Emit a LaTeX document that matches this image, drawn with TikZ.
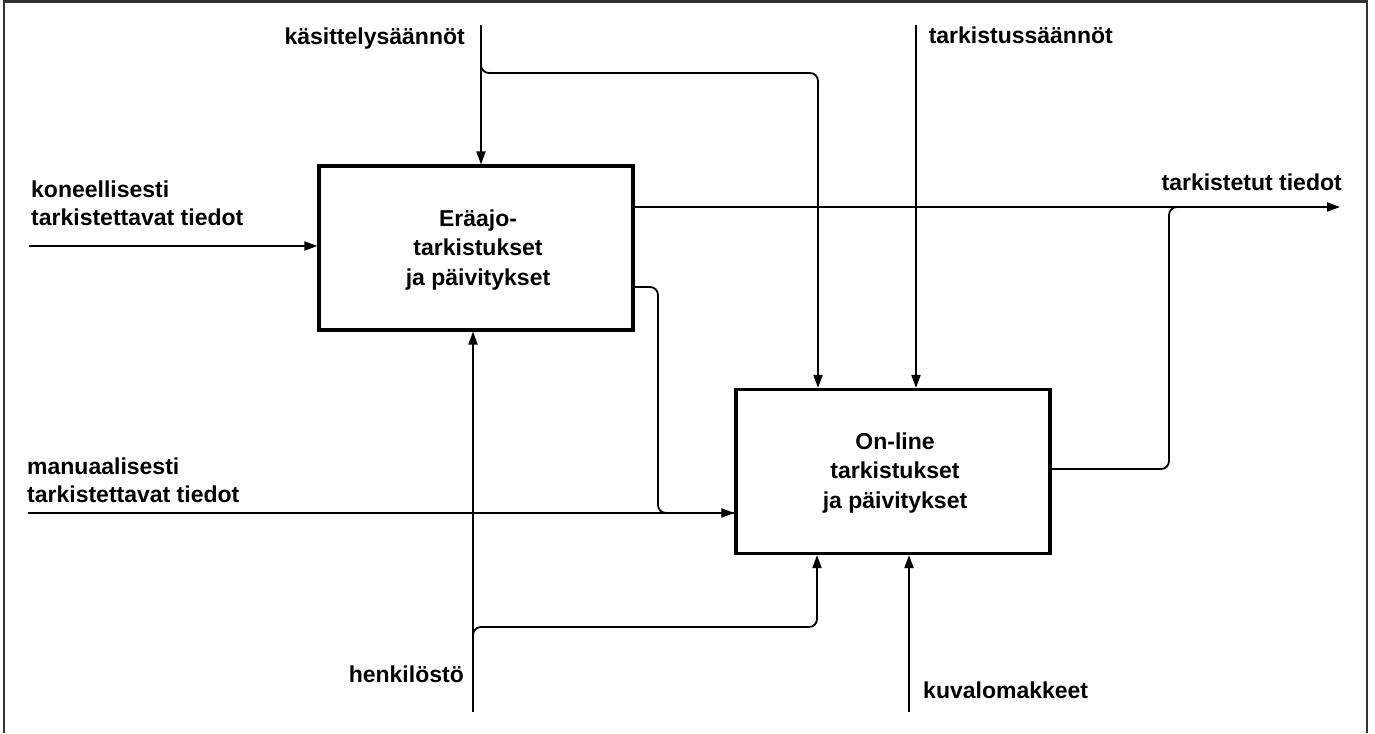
\documentclass[tikz,border=0pt]{standalone}
\usepackage{fontspec}
\setmainfont{Liberation Sans}
\usetikzlibrary{arrows.meta}
\begin{document}
\begin{tikzpicture}[x=1pt,y=-1pt,
  lbl/.style={font=\bfseries\fontsize{23}{28}\selectfont, inner sep=0pt},
  proc/.style={draw, line width=3.2pt, minimum width=314pt, minimum height=164pt, inner sep=0pt},
  proctext/.style={inner sep=0pt, align=center, font=\bfseries\fontsize{23}{29.5}\selectfont},
  flow/.style={line width=1.8pt},
  arr/.style={flow, -{Triangle[length=13pt,width=9pt]}},
  roundbend/.style={rounded corners=8pt}]
\useasboundingbox (0,0) rectangle (1375,733);
% frame
\draw[line width=2.2pt, black!80] (4,733) -- (4,1.5) -- (1367,1.5) -- (1367,733);
% processes
\node[proc] (box1) at (476,248) {};
\node[proctext, anchor=base] (t1) at (478,285) {Eräajo-\\tarkistukset\\ja päivitykset};
\node[proc] (box2) at (893,471.5) {};
\node[proctext, anchor=base] (t2) at (895,508) {On-line\\tarkistukset\\ja päivitykset};
% coordinates
\coordinate (kin) at (29,246);
\coordinate (min) at (28,513);
\coordinate (kas) at (481,25);
\coordinate (kasj) at (481,73);
\coordinate (kasd) at (818,73);
\coordinate (tar) at (916,25);
\coordinate (outE) at (1340,207);
\coordinate (o2) at (1169,469);
\coordinate (o2t) at (1169,207);
\coordinate (o2r) at (1190,207);
\coordinate (b1o) at (658,287);
\coordinate (b1m) at (658,513);
\coordinate (hen) at (473,712);
\coordinate (henj) at (473,627);
\coordinate (henr) at (817,627);
\coordinate (kuv) at (909,712);
% connectors
\draw[arr] (kin) -- (kin -| box1.west);
\draw[arr] (min) -- (min -| box2.west);
\draw[arr] (kas) -- (kas |- box1.north);
\draw[arr, roundbend] ([yshift=10pt]kasj) -- (kasj) -- (kasd) -- (kasd |- box2.north);
\draw[arr] (tar) -- (tar |- box2.north);
\draw[arr] (box1.east |- outE) -- (outE);
\draw[flow, roundbend] (box2.east |- o2) -- (o2) -- (o2t) -- (o2r);
\draw[flow, roundbend] (box1.east |- b1o) -- (b1o) -- (b1m) -- (b1m -| box2.west);
\draw[arr] (hen) -- (hen |- box1.south);
\draw[arr, roundbend] ([yshift=-10pt]henj) -- (henj) -- (henr) -- (henr |- box2.south);
\draw[arr] (kuv) -- (kuv |- box2.south);
% labels
\node[lbl, anchor=base west, align=left] (lk) at (31,225) {koneellisesti\\tarkistettavat tiedot};
\node[lbl, anchor=base west, align=left] (lm) at (27,502) {manuaalisesti\\tarkistettavat tiedot};
\node[lbl, anchor=base east] (lkas) at (465,45) {käsittelysäännöt};
\node[lbl, anchor=base east] (ltar) at (1113,44) {tarkistussäännöt};
\node[lbl, anchor=base east] (ltt) at (1342,190) {tarkistetut tiedot};
\node[lbl, anchor=base east] (lhen) at (464,682) {henkilöstö};
\node[lbl, anchor=base west] (lkuv) at (923,698) {kuvalomakkeet};
\end{tikzpicture}
\end{document}
